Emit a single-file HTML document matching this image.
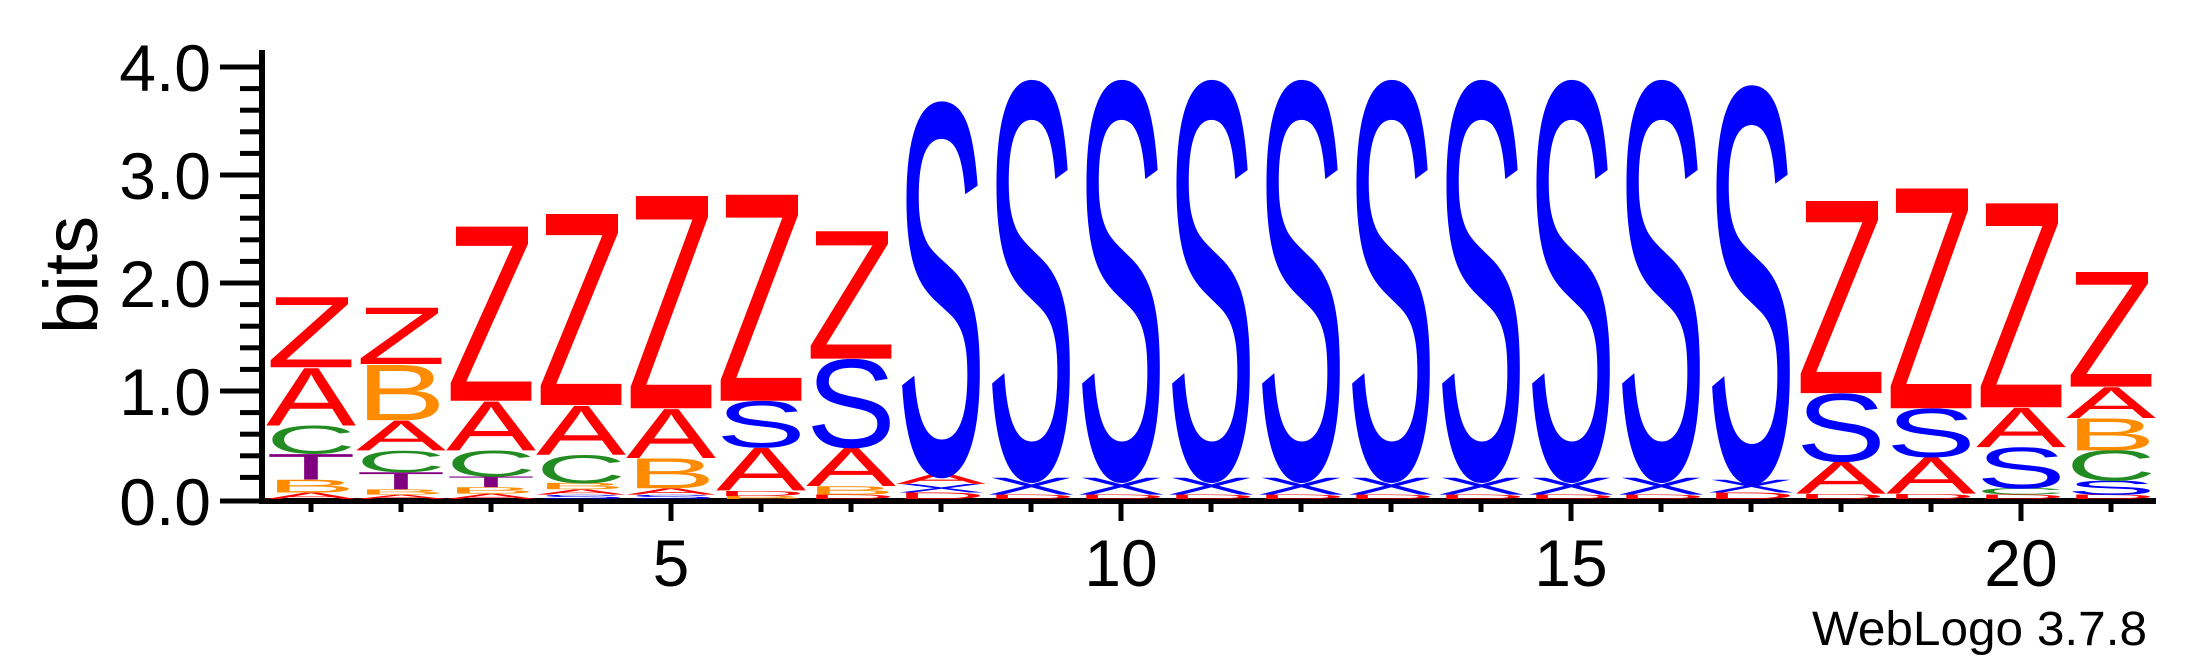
<!DOCTYPE html>
<html><head><meta charset="utf-8"><style>
html,body{margin:0;padding:0;background:#fff;}
svg{display:block;}
text{font-family:"Liberation Sans",sans-serif;}
</style></head><body>
<svg id="chart" width="2200" height="667" viewBox="0 0 2200 667" xmlns="http://www.w3.org/2000/svg">
<g id="axes"></g>
<g id="stacks"></g>
<text transform="translate(97,275) rotate(-90)" text-anchor="middle" font-size="76">bits</text>
<text x="1812" y="645" font-size="48" textLength="335" lengthAdjust="spacingAndGlyphs">WebLogo 3.7.8</text>
</svg>
<script>
const positions = [1,2,3,4,5,6,7,8,9,10,11,12,13,14,15,16,17,18,19,20,21];
const stackLetters = [
 ['A','B','T','C','A','Z'],
 ['A','B','T','C','A','B','Z'],
 ['A','B','T','C','A','Z'],
 ['S','A','B','C','A','Z'],
 ['S','A','B','A','Z'],
 ['B','D','A','S','Z'],
 ['D','B','A','S','Z'],
 ['D','X','A','S'],
 ['D','X','S'],['D','X','S'],['D','X','S'],['D','X','S'],['D','X','S'],['D','X','S'],['D','X','S'],['D','X','S'],
 ['D','X','S'],
 ['D','A','S','Z'],
 ['D','A','S','Z'],
 ['D','C','S','A','Z'],
 ['D','S','C','B','A','Z']
];
const stackBits = [
 [0.06,0.12,0.24,0.26,0.54,0.66],
 [0.04,0.05,0.16,0.20,0.28,0.52,0.53],
 [0.05,0.06,0.10,0.24,0.46,1.64],
 [0.04,0.05,0.06,0.26,0.46,1.80],
 [0.04,0.06,0.28,0.46,2.00],
 [0.03,0.05,0.40,0.43,1.94],
 [0.04,0.08,0.36,0.82,1.20],
 [0.06,0.08,0.10,3.45],
 [0.04,0.16,3.69],[0.04,0.16,3.69],[0.04,0.16,3.69],[0.04,0.16,3.69],[0.04,0.16,3.69],[0.04,0.16,3.69],[0.04,0.16,3.69],[0.04,0.16,3.69],
 [0.06,0.12,3.66],
 [0.05,0.30,0.63,1.81],
 [0.05,0.34,0.45,2.07],
 [0.04,0.06,0.38,0.37,1.92],
 [0.04,0.13,0.28,0.30,0.29,1.08]
];
const yTicks = [0.0,1.0,2.0,3.0,4.0];
const yTickLabels = ['0.0','1.0','2.0','3.0','4.0'];
const xTickLabels = [5,10,15,20];
const colors = {A:'#ff0000',Z:'#ff0000',D:'#ff0000',S:'#0000ff',X:'#0000ff',B:'#ff8c00',C:'#228b22',T:'#800080'};

const NS='http://www.w3.org/2000/svg';
const y0=499, bitPx=108, x1=311, step=90, axisX=262, axisRight=2156, colW=82;
function yScale(b){return y0-b*bitPx;}
function xScale(p){return x1+(p-1)*step;}
const axes=document.getElementById('axes');
const stacks=document.getElementById('stacks');
function mk(tag,attrs,parent){const e=document.createElementNS(NS,tag);for(const k in attrs)e.setAttribute(k,attrs[k]);parent.appendChild(e);return e;}

let yl=mk('rect',{x:axisX-3,y:50,width:6,height:y0+5-50,fill:'#000'},axes);


let xl=mk('rect',{x:axisX-3,y:y0-1,width:axisRight-axisX+3,height:6,fill:'#000'},axes);


for(let i=0;i<=20;i++){
  const b=i*0.2, y=yScale(b)+(i===0?2:0);
  const major=(i%5===0);
  const t=mk('rect',{x:major?220:240,y:y-2.5,width:major?axisX-220:axisX-240,height:5,fill:'#000'},axes);
  
  
}
yTicks.forEach((v,i)=>{
  const t=mk('text',{x:211,y:yScale(v)+(i===0?2:0)+24,'text-anchor':'end','font-size':66},axes);
  t.textContent=yTickLabels[i];
  
  
});
positions.forEach(p=>{
  const major=xTickLabels.indexOf(p)>=0;
  const t=mk('rect',{x:xScale(p)-2.5,y:y0+4,width:5,height:major?18:9,fill:'#000'},axes);
  
  
});
xTickLabels.forEach(p=>{
  const t=mk('text',{x:xScale(p),y:586,'text-anchor':'middle','font-size':66},axes);
  t.textContent=String(p);
  
  
});
positions.forEach((p,i)=>{
  const g=mk('g',{},stacks);
  
  
  let cum=0;
  stackLetters[i].forEach((L,j)=>{
    const h=stackBits[i][j];
    const bottom=yScale(cum), hp=h*bitPx;
    cum+=h;
    const sy=hp/70;
    const t=mk('text',{x:-4,y:0,'font-size':100,fill:colors[L]||'#ff0000',
      textLength:colW+8,lengthAdjust:'spacingAndGlyphs',
      transform:'translate('+(xScale(p)-colW/2)+','+bottom+') scale(1,'+sy+')'},g);
    t.textContent=L;
    
    
  });
});
</script>
</body></html>
